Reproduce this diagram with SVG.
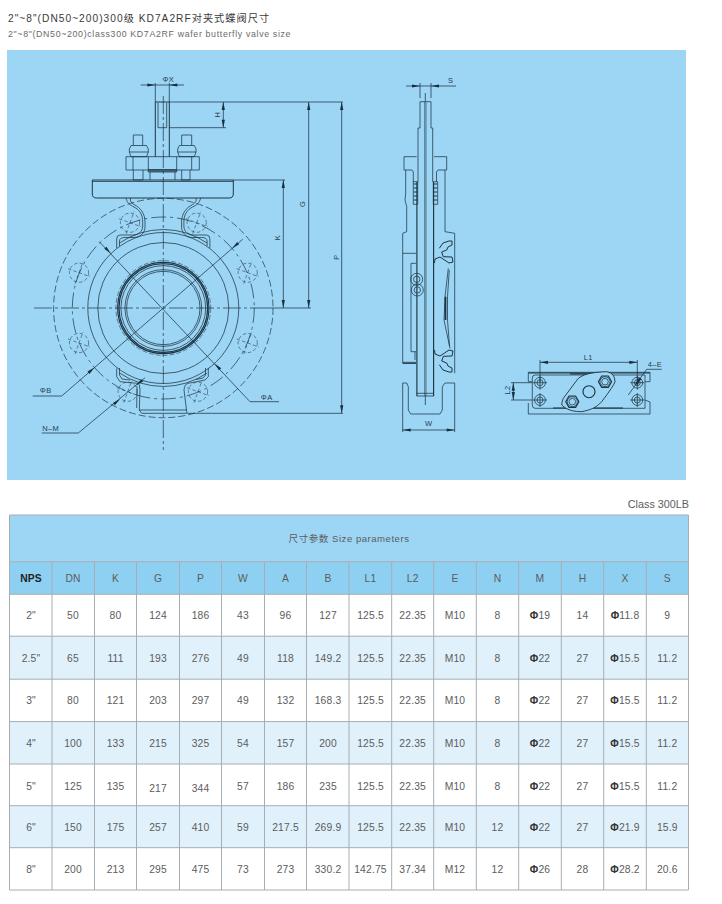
<svg xmlns="http://www.w3.org/2000/svg" xmlns:xlink="http://www.w3.org/1999/xlink" width="722" height="904" viewBox="0 0 722 904">
<style>
text{font-family:"Liberation Sans","Noto Sans CJK SC",sans-serif}
.l{fill:none;stroke:#1c3443;stroke-width:.75;stroke-linejoin:round}
.t{fill:none;stroke:#1c3443;stroke-width:1.15;stroke-linejoin:round}
.d{fill:none;stroke:#1c3443;stroke-width:.7;stroke-dasharray:7 3}
.b{fill:none;stroke:#1c3443;stroke-width:.7;stroke-dasharray:15 4 3 4}
.c{fill:none;stroke:#1c3443;stroke-width:.7;stroke-dasharray:18 3 3 3}
.f{fill:#17303f;stroke:none}
.dim{font-size:7.5px;fill:#24404f;letter-spacing:.4px;text-anchor:middle}
.g{stroke:#a6aeb4;stroke-width:1;fill:none}
.cell text{font-size:10.3px;fill:#5c5c5c;text-anchor:middle;letter-spacing:.18px}
.ph{font-weight:bold;fill:#333}
</style>
<defs>
<polygon id="arr" points="0,0 -8,-1.6 -8,1.6"/>
<g id="hole" class="d" style="stroke-dasharray:3.5 2.2;stroke-width:.55">
<circle r="9.6" style="fill:none"/>
<path d="M-11 -4 L11 4 M-4 11 L4 -11" style="fill:none"/>
</g>
<g id="lug">
<path class="l" d="M126 198C127 203 130 205 134 207C140 210 142.7 215 142.7 222V226C142.7 232 138 235 133 235H120Q116.7 235 116.7 239V248"/>
<path class="l" d="M130.5 198C130 201 131 203 134 204.5C141 208 145 214 145 222V227C145 233 140 237.5 134 237.5H125Q119.5 237.5 119.5 241V246"/>
</g>
<path id="seat" class="l" style="stroke-width:1" d="M439.3 248.3L443 243L449 241L452 241L452 245L448 247L446.7 250L441.7 252L443.3 256.7L452 257L453 262L449 263L440 257L435 259L434.5 263"/>
<g id="bolt">
<circle class="l" r="5.4"/><circle class="l" r="3"/><path class="l" d="M-7 0H7M0 -7V7"/>
</g>
<g id="nut">
<polygon class="t" points="6.6,0 3.3,5.7 -3.3,5.7 -6.6,0 -3.3,-5.7 3.3,-5.7"/><circle class="l" r="5"/><circle class="l" r="3.3"/>
</g>
</defs>

<rect width="722" height="904" fill="#fff"/>
<g id="title">
<text x="8" y="21.5" font-size="10.2" fill="#3a3a3a" letter-spacing="1.02">2"~8"(DN50~200)300级 KD7A2RF对夹式蝶阀尺寸</text>
<text x="8" y="37" font-size="8.8" fill="#6a6a6a" letter-spacing=".66">2"~8"(DN50~200)class300 KD7A2RF wafer butterfly valve size</text>
</g>
<rect id="panel" x="7" y="50" width="679" height="430" fill="#9dd6f5"/>

<g id="front-view">
<circle class="d" cx="163.3" cy="308" r="109.7"/>
<circle class="b" cx="163.3" cy="308" r="91"/>
<circle class="l" cx="163.3" cy="308" r="75.5"/>
<circle class="l" cx="163.3" cy="308" r="65.5"/>
<circle class="d" cx="163.3" cy="308" r="47.4" style="stroke-dasharray:5 2;stroke-width:.55"/>
<circle class="t" cx="163.3" cy="308" r="45.6"/>
<circle class="t" cx="163.3" cy="308" r="44.3"/>
<circle class="l" cx="163.3" cy="308" r="42.4"/>
<circle class="l" cx="163.3" cy="308" r="38.4"/>
<circle class="l" cx="163.3" cy="308" r="36.7"/>
<path class="l" d="M119.5 243A78 78 0 0 1 207.1 243M119.5 373A78 78 0 0 0 207.1 373"/>
<use href="#hole" x="79" y="272.7"/><use href="#hole" x="247.7" y="272.7"/>
<use href="#hole" x="79" y="343"/><use href="#hole" x="247.7" y="343"/>
<use href="#hole" x="130" y="222.7"/><use href="#hole" x="196.7" y="222.7"/>
<use href="#hole" x="127.7" y="391.7"/><use href="#hole" x="198" y="391.7"/>
<use href="#lug"/><use href="#lug" transform="matrix(-1 0 0 1 326.6 0)"/>
<path class="l" d="M116.7 368.3V376.7L120 381.7L130 382.7L138 383.3Q140 384 140 390L139.3 410L141.7 413.3H186.7L186.7 411.7L184 390Q184.5 384 188.3 383.3L196.7 381.7L205 380L208.3 376.7V368"/>
<path class="l" d="M119.5 368V375L122 379L130 380M205.5 368V375L203 378L196 379.5M139.3 410H186.7M137 386L136.7 408"/>
<path class="l" d="M92.3 180H233.3V194Q233.3 198 229 198H96.6Q92.3 198 92.3 194Z" style="stroke-width:1"/>
<path class="l" d="M92.3 181.5H233.3"/>
<path class="l" d="M126 156.7H199.3V170H126ZM148.3 156.7V170M176.7 156.7V170M133 156.7V170M191.7 156.7V170M133.3 170V180H143V170M181.7 170V180H190V170M150 172V180M175 172V180"/>
<path class="t" d="M148.3 171H176.7"/>
<path class="l" d="M148.3 169.5H176.7V172H148.3Z"/>
<path class="l" d="M133.3 145V135H142.7V145M181.7 145V135H191.7V145"/>
<path class="l" d="M129.3 149L131 145.5H146.5L148.3 149V152L146.5 156.7H131L129.3 152ZM129.3 152H148.3M177.7 149L179.4 145.5H194.3L196 149V152L194.3 156.7H179.4L177.7 152ZM177.7 152H196"/>
<path class="l" d="M155.3 156.7V102H169.3V156.7" style="stroke-width:1"/>
<path class="l" d="M158 103V127.7H166.7V103"/>
</g>

<g id="connectors">
<path class="c" d="M163.3 96V450"/>
<path class="c" d="M34 308H253"/><path class="l" d="M253 308H311"/>
<path class="l" d="M155.3 83V102M169.3 83V102M140.7 85H184"/>
<use class="f" href="#arr" transform="translate(155.3,85)"/>
<use class="f" href="#arr" transform="translate(169.3,85) rotate(180)"/>
<path class="l" d="M169.3 102H343M169.3 127.7H226M223.3 102V127.7M308.7 102V308M341.7 102V413.3M187 413.3H343M283.3 180V308M233.3 180H285"/>
<use class="f" href="#arr" transform="translate(223.3,102) rotate(-90)"/>
<use class="f" href="#arr" transform="translate(223.3,127.7) rotate(90)"/>
<use class="f" href="#arr" transform="translate(308.7,102) rotate(-90)"/>
<use class="f" href="#arr" transform="translate(308.7,308) rotate(90)"/>
<use class="f" href="#arr" transform="translate(341.7,102) rotate(-90)"/>
<use class="f" href="#arr" transform="translate(341.7,413.3) rotate(90)"/>
<use class="f" href="#arr" transform="translate(283.3,180) rotate(-90)"/>
<use class="f" href="#arr" transform="translate(283.3,308) rotate(90)"/>
<path class="l" d="M99.3 241.7L250 401.7H279M242.7 239.3L61.7 396H32.7M145 377.7L78.3 433H41.7"/>
<use class="f" href="#arr" transform="translate(110.8,253.6) rotate(47)"/>
<use class="f" href="#arr" transform="translate(214.6,363.4) rotate(227)"/>
<use class="f" href="#arr" transform="translate(232.1,248.4) rotate(139)"/>
<use class="f" href="#arr" transform="translate(94.5,367.5) rotate(-41)"/>
<use class="f" href="#arr" transform="translate(136,385.5) rotate(140)"/>
<use class="f" href="#arr" transform="translate(120,399) rotate(-40)"/>
<path class="l" d="M420 83V98M431 83V98M406 86H456"/>
<use class="f" href="#arr" transform="translate(420,86)"/>
<use class="f" href="#arr" transform="translate(431,86) rotate(180)"/>
<path class="l" d="M402.7 430H454.7"/>
<use class="f" href="#arr" transform="translate(402.7,430) rotate(180)"/>
<use class="f" href="#arr" transform="translate(454.7,430)"/>
<path class="l" d="M540 360V382M637.3 360V382M540 362.3H637.3"/>
<use class="f" href="#arr" transform="translate(540,362.3) rotate(180)"/>
<use class="f" href="#arr" transform="translate(637.3,362.3)"/>
<path class="l" d="M511 382.7H532M511 400H532M513.3 382.7V400"/>
<use class="f" href="#arr" transform="translate(513.3,382.7) rotate(-90)"/>
<use class="f" href="#arr" transform="translate(513.3,400) rotate(90)"/>
<path class="l" d="M628.3 395L646.7 369.3H661.7"/>
<use class="f" href="#arr" transform="translate(635.5,385) rotate(125)"/>
<use class="f" href="#arr" transform="translate(641,377.5) rotate(-55)"/>
</g>

<g id="side-view">
<path class="l" d="M425.3 93V101.7M425.3 396V405"/>
<path class="l" d="M424.7 102V396M426 102V396" style="stroke-width:.6"/>
<path class="l" d="M420 128V101.7H431V128M418 182V128H420M431 128H432.7V182"/>
<path class="t" d="M416.9 182V396M433.6 182V396"/>
<path class="l" d="M416.7 396H434M416.7 393.3H434"/>
<path class="l" d="M416.7 156.7H404V170H412L413.3 172V182M434 156.7H446.7V170H438L436.5 172V182"/>
<path class="l" d="M405.7 170V193.3L405 200L406.7 206.7V231.7L402.7 233.3V363.3M445 170V231.7L454.7 233.3V373.3"/>
<g id="packing">
<rect class="l" x="413.3" y="181.7" width="4.4" height="22.6"/><rect class="l" x="433.3" y="181.7" width="4.4" height="22.6"/>
<path class="t" d="M413.6 184H417.4M413.6 188H417.4M413.6 192H417.4M413.6 196H417.4M413.6 200H417.4M433.6 184H437.4M433.6 188H437.4M433.6 192H437.4M433.6 196H437.4M433.6 200H437.4"/>
</g>
<path class="l" d="M402.7 253.3H416M411 263.3H416M411 263.3V351.7H416M415 352V360M402.7 362.3H416"/>
<path class="t" d="M402.7 363.3H416"/>
<circle class="l" cx="416.7" cy="279.3" r="6"/><circle class="l" cx="416.7" cy="279.3" r="3.2"/>
<circle class="l" cx="417.3" cy="290" r="6"/><circle class="l" cx="417.3" cy="290" r="3.2"/>
<use href="#seat"/><use href="#seat" transform="matrix(1 0 0 -1 0 613)"/>
<path class="l" d="M448.3 268.3L445 296.7L444 320L450 348.3M449.3 270L447.5 296.7V320L449.5 346"/>
<path class="t" d="M445.5 296.7V320" style="stroke-width:1.8"/>
<path class="l" d="M402.7 383H406.7L408.3 386.7V410L410.7 414H440L442.3 410V386.7L445 383H454.7M402.7 383V432M454.7 383V432"/>
</g>

<g id="top-view">
<path class="l" d="M528.3 372.3H650V381.7H645M528.3 372.3V381.7H532.3M528.3 403V414H650V402L645 400"/>
<path class="l" d="M528.3 373H650" style="stroke-width:1"/>
<path class="l" d="M535 375H645V408.3H535Q532.3 408.3 532.3 405V378Q532.3 375 535 375Z"/>
<path class="t" d="M570 373.8L605 373.8M553 408H623" style="stroke-width:1.2"/>
<use href="#bolt" x="540" y="382.7"/><use href="#bolt" x="540" y="400"/>
<use href="#bolt" x="637.3" y="382.7"/><use href="#bolt" x="637.3" y="400"/>
<path fill="#9dd6f5" stroke="#1c3443" stroke-width=".9" d="M563.3 398.3L578.3 378.3C585 373 597 372 606.7 371.7Q615 373 615 381.7Q614.3 385 601.7 401.7C596 408 590 410 581.7 411.7C575 411.5 568 411 561.7 405Q562 401 563.3 398.3Z"/>
<circle class="t" cx="589" cy="391.7" r="6"/>
<use href="#nut" x="572.3" y="401.7"/><use href="#nut" x="605" y="381.7"/>
</g>

<g id="labels">
<text class="dim" x="168.3" y="82">ΦX</text>
<text class="dim" transform="translate(219.5,114.5) rotate(-90)">H</text>
<text class="dim" transform="translate(305.2,204) rotate(-90)">G</text>
<text class="dim" transform="translate(338.5,257) rotate(-90)">P</text>
<text class="dim" transform="translate(280.2,237.5) rotate(-90)">K</text>
<text class="dim" x="266.7" y="399.7">ΦA</text>
<text class="dim" x="45.7" y="393.4">ΦB</text>
<text class="dim" x="50.7" y="430.5">N–M</text>
<text class="dim" x="450.7" y="82.7">S</text>
<text class="dim" x="428.7" y="426">W</text>
<text class="dim" x="588.3" y="360">L1</text>
<text class="dim" transform="translate(510.2,390) rotate(-90)">L2</text>
<text class="dim" x="655" y="366.7">4–E</text>
</g>

<text x="689" y="507.5" font-size="10.8" fill="#5c5c5c" text-anchor="end">Class 300LB</text>

<g id="table">
<rect x="9.5" y="515" width="679" height="46.7" fill="#9dd6f5"/>
<rect x="9.5" y="561.7" width="679" height="32.6" fill="#8ed0f2"/>
<rect x="9.5" y="636.2" width="679" height="43" fill="#e0f1fb"/>
<rect x="9.5" y="721.6" width="679" height="42.4" fill="#e0f1fb"/>
<rect x="9.5" y="805.7" width="679" height="42" fill="#e0f1fb"/>
<path class="g" d="M9.5 515H688.5V890H9.5ZM9.5 561.7H688.5M9.5 594.3H688.5M9.5 636.2H688.5M9.5 679.2H688.5M9.5 721.6H688.5M9.5 764H688.5M9.5 805.7H688.5M9.5 847.7H688.5"/>
<path class="g" d="M52 561.7V890M94.5 561.7V890M136.5 561.7V890M179.5 561.7V890M221.5 561.7V890M264.5 561.7V890M306.5 561.7V890M349 561.7V890M391.7 561.7V890M433.7 561.7V890M476.3 561.7V890M518.7 561.7V890M561.3 561.7V890M603.7 561.7V890M646.3 561.7V890"/>
<text x="349" y="541.5" font-size="9.6" fill="#5c5c5c" text-anchor="middle" letter-spacing=".5">尺寸参数 Size parameters</text>
<g class="cell" transform="translate(0,582)">
<text x="31" font-weight="bold" style="fill:#222">NPS</text><text x="73">DN</text><text x="115.5">K</text><text x="158">G</text><text x="200.5">P</text><text x="243">W</text><text x="285.5">A</text><text x="328">B</text><text x="370.5">L1</text><text x="412.7">L2</text><text x="455">E</text><text x="497.5">N</text><text x="540">M</text><text x="582.5">H</text><text x="625">X</text><text x="667.3">S</text>
</g>
<g class="cell" transform="translate(0,619.3)">
<text x="31">2"</text><text x="73">50</text><text x="115.5">80</text><text x="158">124</text><text x="200.5">186</text><text x="243">43</text><text x="285.5">96</text><text x="328">127</text><text x="370.5">125.5</text><text x="412.7">22.35</text><text x="455">M10</text><text x="497.5">8</text><text x="540"><tspan class="ph">Φ</tspan>19</text><text x="582.5">14</text><text x="625"><tspan class="ph">Φ</tspan>11.8</text><text x="667.3">9</text>
</g>
<g class="cell" transform="translate(0,662)">
<text x="31">2.5"</text><text x="73">65</text><text x="115.5">111</text><text x="158">193</text><text x="200.5">276</text><text x="243">49</text><text x="285.5">118</text><text x="328">149.2</text><text x="370.5">125.5</text><text x="412.7">22.35</text><text x="455">M10</text><text x="497.5">8</text><text x="540"><tspan class="ph">Φ</tspan>22</text><text x="582.5">27</text><text x="625"><tspan class="ph">Φ</tspan>15.5</text><text x="667.3">11.2</text>
</g>
<g class="cell" transform="translate(0,704)">
<text x="31">3"</text><text x="73">80</text><text x="115.5">121</text><text x="158">203</text><text x="200.5">297</text><text x="243">49</text><text x="285.5">132</text><text x="328">168.3</text><text x="370.5">125.5</text><text x="412.7">22.35</text><text x="455">M10</text><text x="497.5">8</text><text x="540"><tspan class="ph">Φ</tspan>22</text><text x="582.5">27</text><text x="625"><tspan class="ph">Φ</tspan>15.5</text><text x="667.3">11.2</text>
</g>
<g class="cell" transform="translate(0,746.5)">
<text x="31">4"</text><text x="73">100</text><text x="115.5">133</text><text x="158">215</text><text x="200.5">325</text><text x="243">54</text><text x="285.5">157</text><text x="328">200</text><text x="370.5">125.5</text><text x="412.7">22.35</text><text x="455">M10</text><text x="497.5">8</text><text x="540"><tspan class="ph">Φ</tspan>22</text><text x="582.5">27</text><text x="625"><tspan class="ph">Φ</tspan>15.5</text><text x="667.3">11.2</text>
</g>
<g class="cell" transform="translate(0,790)">
<text x="31">5"</text><text x="73">125</text><text x="115.5">135</text><text x="158" y="1.6">217</text><text x="200.5" y="1.6">344</text><text x="243">57</text><text x="285.5">186</text><text x="328">235</text><text x="370.5">125.5</text><text x="412.7">22.35</text><text x="455">M10</text><text x="497.5">8</text><text x="540"><tspan class="ph">Φ</tspan>22</text><text x="582.5">27</text><text x="625"><tspan class="ph">Φ</tspan>15.5</text><text x="667.3">11.2</text>
</g>
<g class="cell" transform="translate(0,830.7)">
<text x="31">6"</text><text x="73">150</text><text x="115.5">175</text><text x="158">257</text><text x="200.5">410</text><text x="243">59</text><text x="285.5">217.5</text><text x="328">269.9</text><text x="370.5">125.5</text><text x="412.7">22.35</text><text x="455">M10</text><text x="497.5">12</text><text x="540"><tspan class="ph">Φ</tspan>22</text><text x="582.5">27</text><text x="625"><tspan class="ph">Φ</tspan>21.9</text><text x="667.3">15.9</text>
</g>
<g class="cell" transform="translate(0,872.7)">
<text x="31">8"</text><text x="73">200</text><text x="115.5">213</text><text x="158">295</text><text x="200.5">475</text><text x="243">73</text><text x="285.5">273</text><text x="328">330.2</text><text x="370.5">142.75</text><text x="412.7">37.34</text><text x="455">M12</text><text x="497.5">12</text><text x="540"><tspan class="ph">Φ</tspan>26</text><text x="582.5">28</text><text x="625"><tspan class="ph">Φ</tspan>28.2</text><text x="667.3">20.6</text>
</g>
</g>
</svg>
